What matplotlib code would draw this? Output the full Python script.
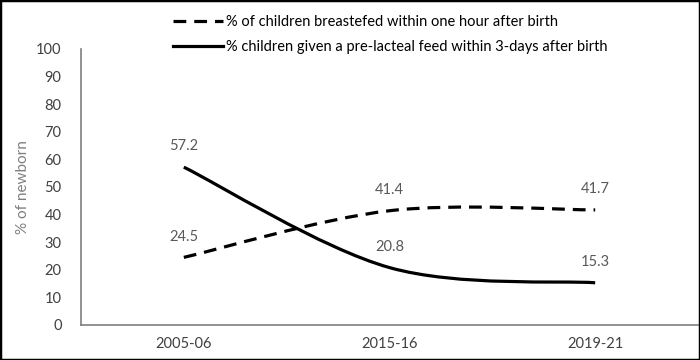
import matplotlib
matplotlib.use("Agg")
import matplotlib.pyplot as plt
from matplotlib.path import Path
from matplotlib.patches import PathPatch, Rectangle
from matplotlib.lines import Line2D

plt.rcParams["font.family"] = ["Lato", "DejaVu Sans"]

years = ["2005-06", "2015-16", "2019-21"]
breastfed = [24.5, 41.4, 41.7]
prelacteal = [57.2, 20.8, 15.3]
label_breastfed = "% of children breastefed within one hour after birth"
label_prelacteal = "% children given a pre-lacteal feed within 3-days after birth"

DASH = (0, (4, 2.5))


def smooth_path(xs, ys):
	# Excel-like smoothed line: Catmull-Rom turned into cubic bezier segments
	pts = list(zip(xs, ys))
	n = len(pts)
	verts = [pts[0]]
	codes = [Path.MOVETO]
	for i in range(n - 1):
		p0 = pts[max(i - 1, 0)]
		p1 = pts[i]
		p2 = pts[i + 1]
		p3 = pts[min(i + 2, n - 1)]
		c1 = (p1[0] + (p2[0] - p0[0]) / 6, p1[1] + (p2[1] - p0[1]) / 6)
		c2 = (p2[0] - (p3[0] - p1[0]) / 6, p2[1] - (p3[1] - p1[1]) / 6)
		verts += [c1, c2, p2]
		codes += [Path.CURVE4] * 3
	return Path(verts, codes)


fig = plt.figure(figsize=(7, 3.6), dpi=100)
ax = fig.add_axes([81 / 700, 35 / 360, 617 / 700, 276 / 360])

xs = list(range(len(years)))
ax.add_patch(PathPatch(smooth_path(xs, breastfed), fill=False, edgecolor="black",
					   linewidth=2.3, linestyle=DASH, capstyle="butt"))
ax.add_patch(PathPatch(smooth_path(xs, prelacteal), fill=False, edgecolor="black",
					   linewidth=2.3, capstyle="butt"))

for x, v in zip(xs, breastfed):
	ax.annotate(f"{v:.1f}", (x, v), xytext=(0, 15), textcoords="offset points",
				ha="center", va="center", fontsize=10.5, color="#595959")
for x, v in zip(xs, prelacteal):
	ax.annotate(f"{v:.1f}", (x, v), xytext=(0, 15), textcoords="offset points",
				ha="center", va="center", fontsize=10.5, color="#595959")

ax.set_xlim(-0.5, len(years) - 0.5)
ax.set_ylim(0, 100)
ax.set_xticks(xs)
ax.set_xticklabels(years)
ax.set_yticks(range(0, 101, 10))
ax.tick_params(length=0, labelsize=10.5, labelcolor="#404040")
ax.tick_params(axis="y", pad=14)
ax.tick_params(axis="x", pad=9)
ax.set_ylabel("% of newborn", fontsize=11, color="#7f7f7f", labelpad=4)

for side in ["top", "right"]:
	ax.spines[side].set_visible(False)
for side in ["left", "bottom"]:
	ax.spines[side].set_color("#7f7f7f")
	ax.spines[side].set_linewidth(1.2)

handles = [Line2D([], [], color="black", linewidth=2.3, linestyle=DASH),
		   Line2D([], [], color="black", linewidth=2.3)]
fig.legend(handles, [label_breastfed, label_prelacteal], loc="upper left",
		   bbox_to_anchor=(163 / 700, 1 - 5 / 360), frameon=False, fontsize=10.5,
		   handlelength=3.4, handletextpad=0.2, labelspacing=0.75, borderpad=0.2)

fig.patches.append(Rectangle((0, 0), 1, 1, transform=fig.transFigure, fill=False,
							 edgecolor="black", linewidth=2.5))

fig.savefig("out.png", dpi=100)
